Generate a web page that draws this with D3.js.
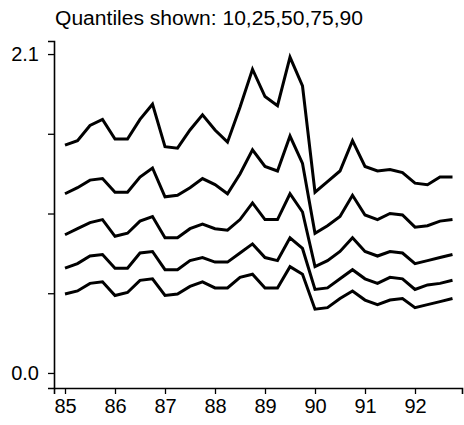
<!DOCTYPE html>
<html>
<head>
<meta charset="utf-8">
<script src="https://cdn.jsdelivr.net/npm/d3@7"></script>
<style>
  body { margin: 0; background: #fff; }
  svg text { font-family: "Liberation Sans", Arial, sans-serif; fill: #000; }
</style>
</head>
<body>
<div id="chart"></div>
<script>
// quarterly observations, 85Q1 .. 92Q4
const quarters = [85, 85.25, 85.5, 85.75, 86, 86.25, 86.5, 86.75, 87, 87.25, 87.5, 87.75,
    88, 88.25, 88.5, 88.75, 89, 89.25, 89.5, 89.75, 90, 90.25, 90.5, 90.75,
    91, 91.25, 91.5, 91.75, 92, 92.25, 92.5, 92.75];

const q90 = [1.50, 1.53, 1.63, 1.67, 1.54, 1.54, 1.67, 1.77, 1.49, 1.48, 1.60, 1.70,
    1.60, 1.52, 1.75, 2.00, 1.82, 1.76, 2.08, 1.89, 1.19, 1.26, 1.33, 1.53,
    1.36, 1.33, 1.34, 1.32, 1.25, 1.24, 1.29, 1.29];
const q75 = [1.18, 1.22, 1.27, 1.28, 1.19, 1.19, 1.29, 1.35, 1.16, 1.17, 1.22, 1.28,
    1.24, 1.18, 1.31, 1.47, 1.36, 1.33, 1.56, 1.38, 0.92, 0.97, 1.03, 1.17,
    1.04, 1.01, 1.05, 1.04, 0.96, 0.97, 1.00, 1.01];
const q50 = [0.91, 0.95, 0.99, 1.01, 0.90, 0.92, 1.00, 1.03, 0.89, 0.89, 0.95, 0.98,
    0.95, 0.94, 1.01, 1.12, 1.01, 1.01, 1.18, 1.06, 0.70, 0.74, 0.80, 0.89,
    0.80, 0.77, 0.80, 0.79, 0.72, 0.74, 0.76, 0.78];
const q25 = [0.69, 0.72, 0.77, 0.78, 0.69, 0.69, 0.79, 0.80, 0.68, 0.68, 0.74, 0.76,
    0.73, 0.73, 0.79, 0.85, 0.76, 0.74, 0.89, 0.82, 0.55, 0.56, 0.62, 0.68,
    0.62, 0.59, 0.63, 0.62, 0.55, 0.58, 0.59, 0.61];
const q10 = [0.52, 0.54, 0.59, 0.60, 0.51, 0.53, 0.61, 0.62, 0.51, 0.52, 0.57, 0.60,
    0.56, 0.56, 0.63, 0.65, 0.56, 0.56, 0.70, 0.65, 0.42, 0.43, 0.49, 0.54,
    0.48, 0.45, 0.48, 0.49, 0.43, 0.45, 0.47, 0.49];

const xTicks = [85, 86, 87, 88, 89, 90, 91, 92];
const yTicks = [0, 0.525, 1.05, 1.575, 2.1];
const yLabelled = [0, 2.1];
const title = "Quantiles shown: 10,25,50,75,90";

const width = 464, height = 425;

const svg = d3.select("#chart").append("svg")
    .attr("width", width)
    .attr("height", height);

// scales (domain padded so the axis lines overrun the data a bit, like the original)
const x = d3.scaleLinear().domain([84.78, 92.94]).range([54, 462]);
const y = d3.scaleLinear().domain([-0.099, 2.186]).range([388, 41]);

// title
svg.append("text")
    .attr("x", 55)
    .attr("y", 25)
    .attr("textLength", 308)
    .attr("lengthAdjust", "spacingAndGlyphs")
    .style("font-size", "20px")
    .text(title);

// x axis
const xAxis = svg.append("g")
    .attr("transform", "translate(0," + y(-0.099) + ")")
    .call(d3.axisBottom(x).tickValues(xTicks).tickSize(6).tickPadding(4).tickFormat(d3.format("d")));

// y axis
const yAxis = svg.append("g")
    .attr("transform", "translate(" + x(84.78) + ",0)")
    .call(d3.axisLeft(y).tickValues(yTicks).tickSize(6).tickPadding(9)
        .tickFormat(d => yLabelled.includes(d) ? d3.format(".1f")(d) : ""));

[xAxis, yAxis].forEach(g => {
    g.select(".domain").attr("stroke", "#000").attr("stroke-width", 1.6);
    g.selectAll(".tick line").attr("stroke", "#000").attr("stroke-width", 1.3);
    g.selectAll("text").style("font-size", "20px").attr("fill", "#000");
});
xAxis.selectAll("text").attr("dy", "0.75em");

// quantile lines
const line = d3.line()
    .x((d, i) => x(quarters[i]))
    .y(d => y(d));

svg.selectAll(".q")
    .data([q10, q25, q50, q75, q90])
    .enter()
    .append("path")
    .attr("class", "q")
    .attr("d", line)
    .attr("fill", "none")
    .attr("stroke", "#000")
    .attr("stroke-width", 3)
    .attr("stroke-linejoin", "miter")
    .attr("stroke-miterlimit", 4);
</script>
</body>
</html>
